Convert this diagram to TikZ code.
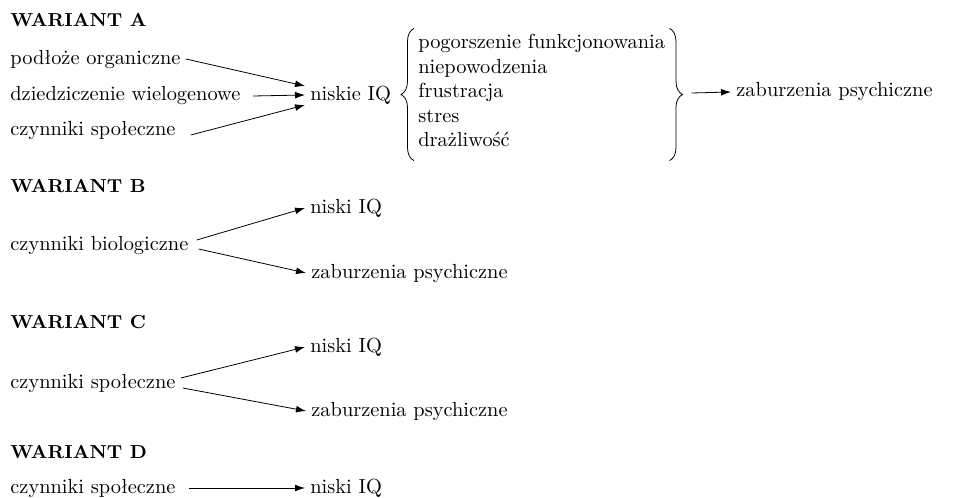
\documentclass[tikz,border=0pt]{standalone}
\usepackage{tikz}
\usetikzlibrary{matrix,arrows.meta,decorations.pathreplacing}

\tikzset{
	txt/.style={anchor=base west,inner sep=2.5pt,text height=7pt,text depth=2pt,font=\fontsize{10.2}{12.25}\selectfont},
	hd/.style={txt,font=\fontsize{9.4}{12}\selectfont\bfseries},
	arr/.style={-{Latex[length=5pt,width=3.4pt]}},
	brc/.style={decorate,decoration={brace,amplitude=6.5pt}}
}

\begin{document}
\begin{tikzpicture}[x=0.5pt,y=-0.5pt]
			\useasboundingbox (0,0) rectangle (955,498);
			\node[hd] (wa) at (5,26) {WARIANT A};
			\node[txt] (org) at (5,64) {podłoże organiczne};
			\node[txt] (dzi) at (5,100) {dziedziczenie wielogenowe};
			\node[txt] (spa) at (5,135) {czynniki społeczne};
			\node[txt] (iqa) at (305,100) {niskie IQ};
			\matrix (lst) [matrix of nodes,anchor=west,inner sep=0pt,
				nodes={anchor=base west,inner sep=1pt,text height=7.5pt,text depth=2.75pt,font=\fontsize{10.2}{12.25}\selectfont}] at (416,93)
			{
			pogorszenie funkcjonowania \\
			niepowodzenia \\
			frustracja \\
			stres \\
			drażliwość \\
			};
			\node[txt] (zaa) at (731,97) {zaburzenia psychiczne};
			\draw[brc] ([shift={(-1pt,-3pt)}]lst.south west) -- ([shift={(-1pt,1.5pt)}]lst.north west);
			\draw[brc] ([shift={(1pt,1.5pt)}]lst.north east) -- ([shift={(1pt,-3pt)}]lst.south east);
			\draw[arr] (org.east) -- ([yshift=4.5pt]iqa.west);
			\draw[arr] ([xshift=3.5pt,yshift=-0.5pt]dzi.east) -- (iqa.west);
			\draw[arr] ([xshift=5pt,yshift=-2.5pt]spa.east) -- ([yshift=-5pt]iqa.west);
			\draw[arr] ([xshift=12pt]lst.east) -- (zaa.west);

			\node[hd] (wb) at (5,192) {WARIANT B};
			\node[txt] (bio) at (5,250) {czynniki biologiczne};
			\node[txt] (iqb) at (305,213) {niski IQ};
			\node[txt] (zab) at (306,278) {zaburzenia psychiczne};
			\draw[arr] ([xshift=1.5pt,yshift=2.5pt]bio.east) -- (iqb.west);
			\draw[arr] ([xshift=2.5pt,yshift=-2pt]bio.east) -- (zab.west);

			\node[hd] (wc) at (5,328) {WARIANT C};
			\node[txt] (spc) at (5,388) {czynniki społeczne};
			\node[txt] (iqc) at (305,352) {niski IQ};
			\node[txt] (zac) at (306,416) {zaburzenia psychiczne};
			\draw[arr] ([yshift=2.5pt]spc.east) -- (iqc.west);
			\draw[arr] ([xshift=1pt,yshift=-2.5pt]spc.east) -- (zac.west);

			\node[hd] (wd) at (5,458) {WARIANT D};
			\node[txt] (spd) at (5,493) {czynniki społeczne};
			\node[txt] (iqd) at (305,493) {niski IQ};
			\draw[arr] ([xshift=4pt]spd.east) -- (iqd.west);
		\end{tikzpicture}
\end{document}
